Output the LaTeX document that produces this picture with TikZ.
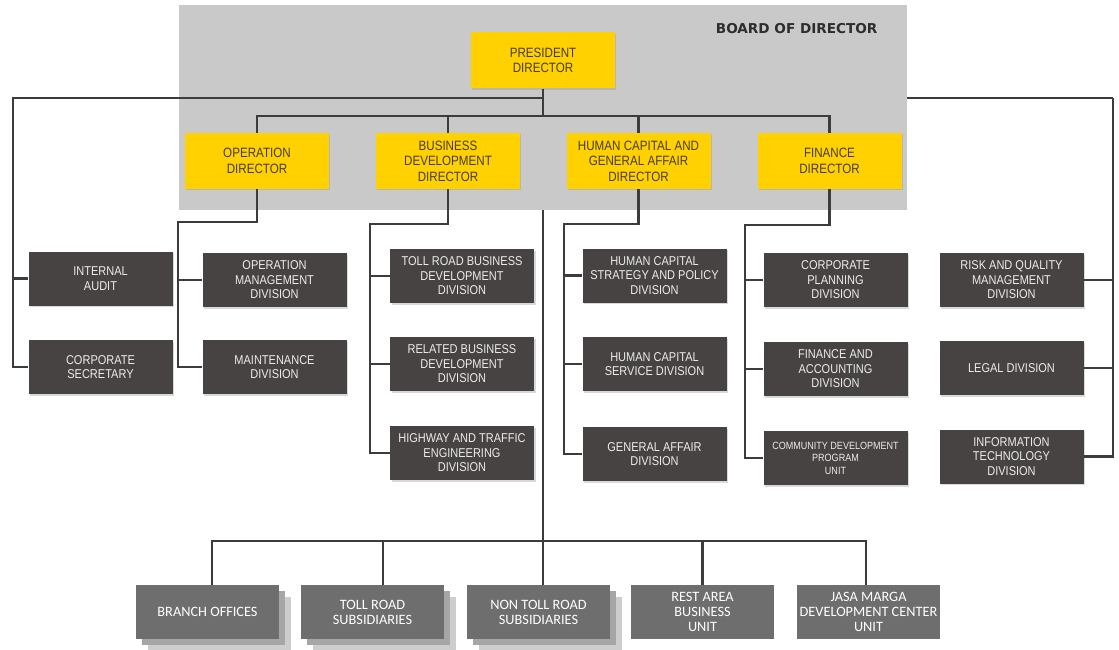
\documentclass[tikz,border=0pt]{standalone}
\usepackage{fontspec}
\usetikzlibrary{shadows}
\newfontfamily\condf{Liberation Sans}[FakeStretch=0.86]
\newfontfamily\boardf{DejaVu Sans}
\newfontfamily\botf{Carlito}
\definecolor{boardgray}{RGB}{201,201,201}
\definecolor{yel}{RGB}{255,209,0}
\definecolor{ytext}{RGB}{72,60,36}
\definecolor{darkbox}{RGB}{71,67,67}
\definecolor{darktext}{RGB}{236,236,236}
\definecolor{botbox}{RGB}{110,110,110}
\definecolor{shA}{RGB}{166,166,166}
\definecolor{shB}{RGB}{205,205,205}
\definecolor{linec}{RGB}{60,60,60}
\definecolor{boardtext}{RGB}{45,45,45}
\pgfdeclarelayer{lower}
\pgfdeclarelayer{board}
\pgfsetlayers{lower,board,main}
\tikzset{
  conn/.style={draw=linec, line width=2.8pt},
  boardbox/.style={fill=boardgray, minimum width=728pt, minimum height=205pt, inner sep=0pt},
  ybox/.style={fill=yel, minimum width=144pt, minimum height=56pt, inner sep=0pt, align=center,
    text=ytext, font=\condf\fontsize{13.5}{15.5}\selectfont,
    drop shadow={shadow xshift=1.2pt, shadow yshift=-1.2pt, opacity=0.25}},
  dbox/.style={fill=darkbox, minimum width=144pt, minimum height=54pt, inner sep=0pt, align=center,
    text=darktext, font=\condf\fontsize{12.8}{14.5}\selectfont,
    drop shadow={shadow xshift=1.5pt, shadow yshift=-1.5pt, opacity=0.3}},
  smalltext/.style={font=\condf\fontsize{10.5}{12.5}\selectfont},
  bbox/.style={fill=botbox, minimum width=143pt, minimum height=54pt, inner sep=0pt, align=center,
    text=white, font=\botf\fontsize{14.3}{15}\selectfont},
}
\begin{document}
\begin{tikzpicture}[x=1pt,y=-1pt]
\useasboundingbox (0,0) rectangle (1119,650);
% board
\begin{pgfonlayer}{board}
\node[boardbox] (board) at (543,107.5) {};
\end{pgfonlayer}
\node[anchor=east, text=boardtext, font=\boardf\bfseries\fontsize{13.6}{15}\selectfont] (bod) at (881,29) {BOARD OF DIRECTOR};
% directors
\node[ybox] (pres) at (543,60.5) {PRESIDENT\\DIRECTOR};
\node[ybox] (op) at (257,161) {OPERATION\\DIRECTOR};
\node[ybox] (bd) at (448,161) {BUSINESS\\DEVELOPMENT\\DIRECTOR};
\node[ybox] (hc) at (638.5,161) {HUMAN CAPITAL AND\\GENERAL AFFAIR\\DIRECTOR};
\node[ybox] (fin) at (829.5,161) {FINANCE\\DIRECTOR};
% divisions
\node[dbox] (ia) at (100.5,278.5) {INTERNAL\\AUDIT};
\node[dbox] (cs) at (100.5,367) {CORPORATE\\SECRETARY};
\node[dbox] (om) at (274.5,280) {OPERATION\\MANAGEMENT\\DIVISION};
\node[dbox] (mt) at (274.5,367) {MAINTENANCE\\DIVISION};
\node[dbox] (tr) at (462,276) {TOLL ROAD BUSINESS\\DEVELOPMENT\\DIVISION};
\node[dbox] (rb) at (462,364) {RELATED BUSINESS\\DEVELOPMENT\\DIVISION};
\node[dbox] (hw) at (462,453) {HIGHWAY AND TRAFFIC\\ENGINEERING\\DIVISION};
\node[dbox] (hs) at (654.5,275.5) {HUMAN CAPITAL\\STRATEGY AND POLICY\\DIVISION};
\node[dbox] (hsv) at (654.5,364) {HUMAN CAPITAL\\SERVICE DIVISION};
\node[dbox] (ga) at (654.5,454) {GENERAL AFFAIR\\DIVISION};
\node[dbox] (cp) at (835.5,280) {CORPORATE\\PLANNING\\DIVISION};
\node[dbox] (fa) at (835.5,369) {FINANCE AND\\ACCOUNTING\\DIVISION};
\node[dbox, smalltext] (cd) at (835.5,458) {COMMUNITY DEVELOPMENT\\PROGRAM\\UNIT};
\node[dbox] (rq) at (1011.5,280) {RISK AND QUALITY\\MANAGEMENT\\DIVISION};
\node[dbox] (lg) at (1011.5,368) {LEGAL DIVISION};
\node[dbox] (it) at (1011.5,456.5) {INFORMATION\\TECHNOLOGY\\DIVISION};
% bottom units
\node[bbox] (b1) at (207.5,612) {BRANCH OFFICES};
\node[bbox] (b2) at (372.5,612) {TOLL ROAD\\SUBSIDIARIES};
\node[bbox] (b3) at (538.5,612) {NON TOLL ROAD\\SUBSIDIARIES};
\node[bbox] (b4) at (702.5,612) {REST AREA\\BUSINESS\\UNIT};
\node[bbox] (b5) at (868.5,612) {JASA MARGA\\DEVELOPMENT CENTER\\UNIT};
% coordinates of junctions
\coordinate (j1) at (543,98);
\coordinate (j2) at (543,116);
\coordinate (lx) at (13,98);
\coordinate (rx) at (1113,98);
\coordinate (opk) at (178,222);
\coordinate (bdk) at (370,224);
\coordinate (hck) at (564,224);
\coordinate (fink) at (745,225);
\coordinate (bus) at (543,541);
% hidden (behind board) lines and stacked shadows
\begin{pgfonlayer}{lower}
\draw[conn] (j2) -- (bus);
\draw[conn] (j1) -- (rx);
\foreach \n in {b1,b2,b3}{
  \fill[shB] ([shift={(12,12)}]\n.north west) rectangle ([shift={(12,12)}]\n.south east);
  \fill[shA] ([shift={(6,6)}]\n.north west) rectangle ([shift={(6,6)}]\n.south east);
}
\end{pgfonlayer}
% president and directors
\draw[conn] (pres.south) -- (j2);
\draw[conn] (op.north) |- (j2) -| (fin.north);
\draw[conn] (bd.north) -- (bd.north |- j2);
\draw[conn] (hc.north) -- (hc.north |- j2);
% left column
\draw[conn] (j1) -- (lx) |- (cs.west);
\draw[conn] (ia.west) -- (ia.west -| lx);
% right column
\draw[conn] (rx) |- (it.east);
\draw[conn] (rq.east) -- (rq.east -| rx);
\draw[conn] (lg.east) -- (lg.east -| rx);
% operation
\draw[conn] (op.south) |- (opk) |- (mt.west);
\draw[conn] (om.west) -- (om.west -| opk);
% business development
\draw[conn] (bd.south) |- (bdk) |- (hw.west);
\draw[conn] (tr.west) -- (tr.west -| bdk);
\draw[conn] (rb.west) -- (rb.west -| bdk);
% human capital
\draw[conn] (hc.south) |- (hck) |- (ga.west);
\draw[conn] (hs.west) -- (hs.west -| hck);
\draw[conn] (hsv.west) -- (hsv.west -| hck);
% finance
\draw[conn] (fin.south) |- (fink) |- (cd.west);
\draw[conn] (cp.west) -- (cp.west -| fink);
\draw[conn] (fa.west) -- (fa.west -| fink);
% bottom bus
\draw[conn] ([xshift=4.5]b1.north) |- (bus) -| ([xshift=-2.5]b5.north);
\draw[conn] ([xshift=10.5]b2.north) -- ([xshift=10.5]b2.north |- bus);
\draw[conn] (bus) -- (bus |- b3.north);
\draw[conn] (b4.north) -- (b4.north |- bus);
\end{tikzpicture}
\end{document}
